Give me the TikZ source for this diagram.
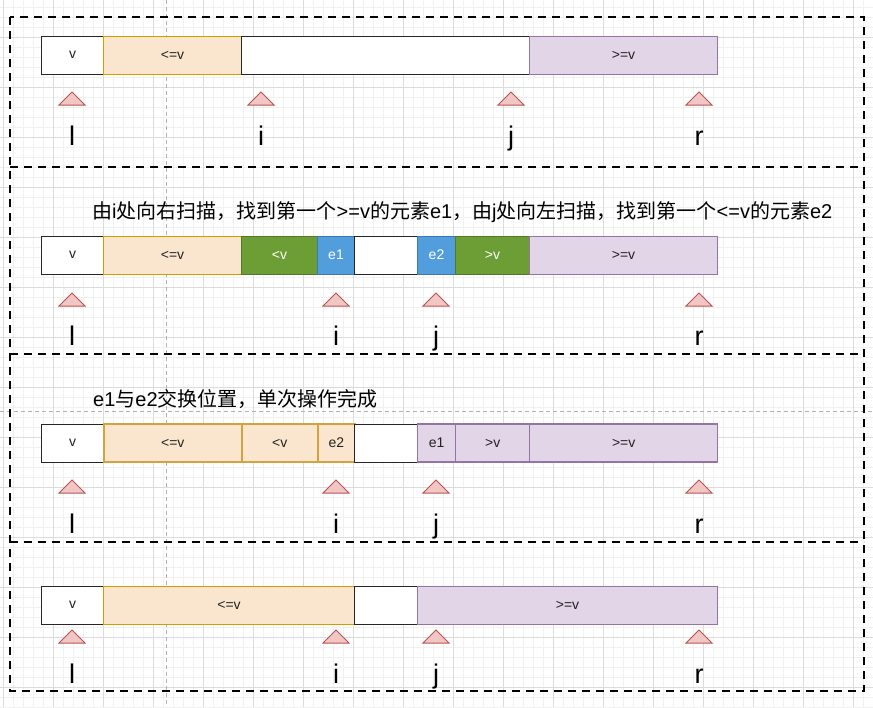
\documentclass[tikz,border=0pt]{standalone}
\usepackage{fontspec}
\setmainfont{Liberation Sans}
\newfontfamily\cjk{Noto Sans CJK SC}
\definecolor{ofill}{HTML}{FAE6CE}
\definecolor{oline}{HTML}{D79B00}
\definecolor{oline2}{HTML}{D4A23F}
\definecolor{pfill}{HTML}{E1D5E7}
\definecolor{pline}{HTML}{9673A6}
\definecolor{gfill}{HTML}{6D9E35}
\definecolor{gline}{HTML}{527A26}
\definecolor{bfill}{HTML}{529DDB}
\definecolor{bline}{HTML}{3B78B5}
\definecolor{tfill}{HTML}{F2C6C4}
\definecolor{tline}{HTML}{B85450}
\definecolor{gridminor}{HTML}{F1F1F1}
\definecolor{gridmajor}{HTML}{DCDCDC}
\definecolor{txt}{HTML}{222222}
\tikzset{
  cell/.style={draw, line width=1pt, minimum height=38pt, inner sep=0pt, anchor=west, font=\fontsize{14}{16}\selectfont, text=txt},
  wcell/.style={cell, fill=white, draw=black!85},
  ocell/.style={cell, fill=ofill, draw=oline},
  ocellb/.style={cell, fill=ofill, draw=oline2, line width=1.6pt},
  pcell/.style={cell, fill=pfill, draw=pline},
  pcellb/.style={cell, fill=pfill, draw=pline, line width=1.4pt},
  gcell/.style={cell, fill=gfill, draw=gline, text=white},
  bcell/.style={cell, fill=bfill, draw=bline, text=white},
  ptrlabel/.style={font=\fontsize{27}{29}\selectfont, text=black, inner sep=0pt, anchor=base},
  tri/.style={fill=tfill, draw=tline, line width=1pt, line join=miter},
  frame/.style={draw=black, line width=2.6pt, dash pattern=on 8pt off 6pt},
  note/.style={font=\fontsize{20}{22}\selectfont, text=black, anchor=west, inner sep=0pt}
}
\begin{document}
\begin{tikzpicture}[x=1pt,y=-1pt]
\useasboundingbox (0,0) rectangle (873,707);
% grid
\foreach \gx in {3,13,...,873} \draw[gridminor, line width=0.8pt] (\gx,0) -- (\gx,707);
\foreach \gy in {7,17,...,707} \draw[gridminor, line width=0.8pt] (0,\gy) -- (873,\gy);
\foreach \gx in {3,53,...,873} \draw[gridmajor, line width=0.9pt] (\gx,0) -- (\gx,707);
\foreach \gy in {37,87,...,707} \draw[gridmajor, line width=0.9pt] (0,\gy) -- (873,\gy);
% guide lines
\draw[black!30, line width=0.8pt, dash pattern=on 4pt off 3pt] (166,0) -- (166,707);
\draw[black!30, line width=0.8pt, dash pattern=on 4pt off 3pt] (0,411) -- (873,411);
% frames
\draw[frame] (10,17) rectangle (864,691);
\draw[frame] (10,167) -- (864,167);
\draw[frame] (10,354) -- (864,354);
\draw[frame] (10,542) -- (864,542);

% row 1
\node[wcell, minimum width=62pt] (a1) at (41,55) {v};
\node[ocell, minimum width=138pt] (a2) at (103,55) {<=v};
\node[wcell, minimum width=288pt] (a3) at (241,55) {};
\node[pcell, minimum width=188pt] (a4) at (529,55) {>=v};

% row 2
\node[note] (t2) at (92,212) {{\cjk 由}i{\cjk 处向右扫描，找到第一个}>=v{\cjk 的元素}e1{\cjk ，由}j{\cjk 处向左扫描，找到第一个}<=v{\cjk 的元素}e2};
\node[wcell, minimum width=62pt] (b1) at (41,255) {v};
\node[ocell, minimum width=138pt] (b2) at (103,255) {<=v};
\node[gcell, minimum width=76pt] (b3) at (241,255) {<v};
\node[bcell, minimum width=37pt] (b4) at (317,255) {e1};
\node[wcell, minimum width=63pt] (b5) at (354,255) {};
\node[bcell, minimum width=38pt] (b6) at (417,255) {e2};
\node[gcell, minimum width=74pt] (b7) at (455,255) {>v};
\node[pcell, minimum width=188pt] (b8) at (529,255) {>=v};

% row 3
\node[note] (t3) at (93,399) {e1{\cjk 与}e2{\cjk 交换位置，单次操作完成}};
\node[wcell, minimum width=62pt] (c1) at (41,443) {v};
\node[ocellb, minimum width=138pt] (c2) at (103,443) {<=v};
\node[ocellb, minimum width=76pt] (c3) at (241,443) {<v};
\node[ocellb, minimum width=37pt] (c4) at (317,443) {e2};
\node[wcell, minimum width=63pt] (c5) at (354,443) {};
\node[pcellb, minimum width=38pt] (c6) at (417,443) {e1};
\node[pcellb, minimum width=74pt] (c7) at (455,443) {>v};
\node[pcellb, minimum width=188pt] (c8) at (529,443) {>=v};

% row 4
\node[wcell, minimum width=62pt] (d1) at (41,605) {v};
\node[ocell, minimum width=251pt] (d2) at (103,605) {<=v};
\node[wcell, minimum width=63pt] (d3) at (354,605) {};
\node[pcell, minimum width=300pt] (d4) at (417,605) {>=v};

% pointers
\foreach \px/\lab/\nm in {72/l/l, 261/i/i, 511/j/j, 699/r/r} {
  \draw[tri] (\px-13,105) -- (\px,92) -- (\px+13,105) -- cycle;
  \node[ptrlabel] (p1\nm) at (\px,145) {\lab};
}
\foreach \row/\ty/\ly in {2/306/345, 3/493/533, 4/643/683} {
  \foreach \px/\lab/\nm in {72/l/l, 336/i/i, 436/j/j, 699/r/r} {
    \draw[tri] (\px-13,\ty) -- (\px,\ty-13) -- (\px+13,\ty) -- cycle;
    \node[ptrlabel] (p\row\nm) at (\px,\ly) {\lab};
  }
}
\end{tikzpicture}
\end{document}
